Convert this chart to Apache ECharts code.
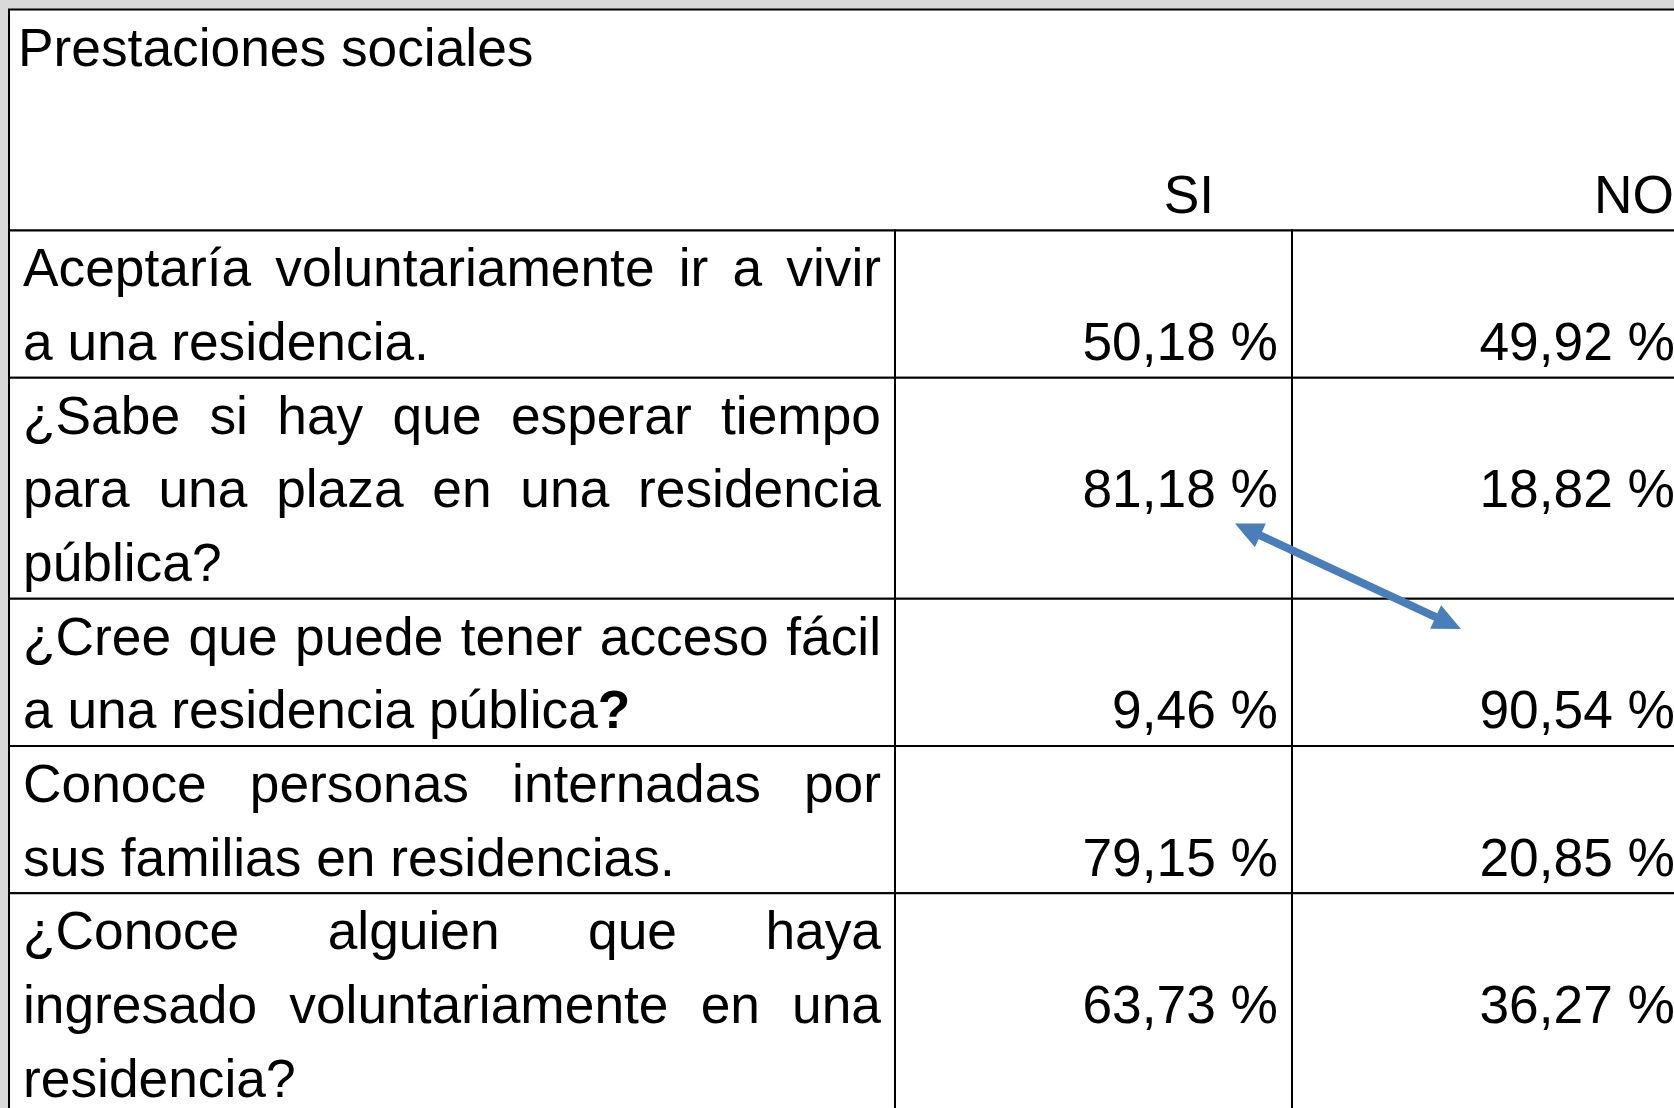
<!DOCTYPE html>
<html>
<head>
<meta charset="utf-8">
<title>Prestaciones sociales</title>
<script src="https://cdn.jsdelivr.net/npm/echarts@6/dist/echarts.min.js"></script>
<style>
  html, body { margin: 0; padding: 0; background: #d9d9d9; }
  #chart { width: 1674px; height: 1108px; }
</style>
</head>
<body>
<div id="chart"></div>
<script>
// ---- data ----
const title = 'Prestaciones sociales';
const answers = ['SI', 'NO'];
const questions = [
  ['Aceptaría voluntariamente ir a vivir', 'a una residencia.'],
  ['¿Sabe si hay que esperar tiempo', 'para una plaza en una residencia', 'pública?'],
  ['¿Cree que puede tener acceso fácil', 'a una residencia pública?'],
  ['Conoce personas internadas por', 'sus familias en residencias.'],
  ['¿Conoce alguien que haya', 'ingresado voluntariamente en una', 'residencia?']
];
const siValues = [50.18, 81.18, 9.46, 79.15, 63.73];
const noValues = [49.92, 18.82, 90.54, 20.85, 36.27];

// ---- layout / style ----
const FONT = '"Liberation Sans", Arial, sans-serif';
const FS = 53.3;
const LINE_H = 73.65;
const TEXT_DY = 4.5;
const HEADER_LINES = 3;
const COL_EDGES = [0, 886, 1283, 1680];   // x axis units = table px (table runs past the page)
const PAD_L = 14, PAD_R = 14, NUM_PAD = 14, TITLE_PAD = 9;
const HEADER_LABEL_RIGHT = [1205, 1665];
const NUM_LINE = 1;                       // numbers sit on the 2nd text line
const BOLD_MARK_ROW = 2;                  // trailing "?" in bold
const ARROW_FROM = [1226, 6.98];          // [x units, text lines]
const ARROW_TO = [1452, 8.41];
const ARROW_COLOR = '#4a7ebb';
const GRID_LEFT = 9, GRID_TOP = 9.5, PAGE_W = 1674, PAGE_H = 1108;

const rowStart = [];
let acc = HEADER_LINES;
questions.forEach(q => { rowStart.push(acc); acc += q.length; });

const ctx = document.createElement('canvas').getContext('2d');
ctx.font = FS + 'px ' + FONT;

const fmt = v => v.toFixed(2).replace('.', ',') + ' %';

function txt(s, x, y, align, extra) {
  return {
    type: 'text',
    style: Object.assign({
      text: s, x: x, y: y + TEXT_DY, align: align, verticalAlign: 'middle',
      fontSize: FS, fontFamily: FONT, fill: '#000'
    }, extra || {})
  };
}

function boxRect(api, x0, y0, x1, y1) {
  const a = api.coord([x0, y0]);
  const b = api.coord([x1, y1]);
  return {
    type: 'rect',
    shape: { x: a[0], y: a[1], width: b[0] - a[0], height: b[1] - a[1] },
    style: { fill: '#fff', stroke: '#000', lineWidth: 2 }
  };
}

function headerItem(params, api) {
  const children = [boxRect(api, 0, 0, COL_EDGES[3], HEADER_LINES)];
  const a = api.coord([0, 0.5]);
  children.push(txt(title, a[0] + TITLE_PAD, a[1], 'left'));
  answers.forEach((s, k) => {
    const p = api.coord([HEADER_LABEL_RIGHT[k], HEADER_LINES - 0.5]);
    children.push(txt(s, p[0], p[1], 'right'));
  });
  return { type: 'group', children: children };
}

function rowItem(params, api) {
  const i = params.dataIndex;
  const lines = questions[i];
  const start = rowStart[i];
  const end = start + lines.length;
  const children = [];
  for (let c = 0; c < 3; c++) children.push(boxRect(api, COL_EDGES[c], start, COL_EDGES[c + 1], end));

  const x0 = api.coord([COL_EDGES[0], 0])[0] + PAD_L;
  const x1 = api.coord([COL_EDGES[1], 0])[0] - PAD_R;
  lines.forEach((line, j) => {
    const y = api.coord([0, start + j + 0.5])[1];
    const words = line.split(' ');
    if (j < lines.length - 1 && words.length > 1) {
      // justified line
      const w = words.map(s => ctx.measureText(s).width);
      const gap = (x1 - x0 - w.reduce((m, n) => m + n, 0)) / (words.length - 1);
      let x = x0;
      words.forEach((s, k) => {
        children.push(txt(s, x, y, 'left'));
        x += w[k] + gap;
      });
    } else if (i === BOLD_MARK_ROW && j === lines.length - 1) {
      const body = line.slice(0, -1);
      children.push(txt('{n|' + body + '}{b|?}', x0, y, 'left', {
        rich: {
          n: { fontSize: FS, fontFamily: FONT, fill: '#000' },
          b: { fontSize: FS, fontFamily: FONT, fill: '#000', fontWeight: 'bold' }
        }
      }));
    } else {
      children.push(txt(line, x0, y, 'left'));
    }
  });

  const yNum = api.coord([0, start + NUM_LINE + 0.5])[1];
  [siValues[i], noValues[i]].forEach((v, k) => {
    const xr = api.coord([COL_EDGES[k + 2], 0])[0] - NUM_PAD;
    children.push(txt(fmt(v), xr, yNum, 'right'));
  });
  return { type: 'group', children: children };
}

function arrowItem(params, api) {
  const p = api.coord(ARROW_FROM);
  const q = api.coord(ARROW_TO);
  const dx = q[0] - p[0], dy = q[1] - p[1];
  const len = Math.sqrt(dx * dx + dy * dy);
  const ux = dx / len, uy = dy / len, nx = -uy, ny = ux;
  const L = 28, W = 13;
  const head = (t, s) => [
    [t[0], t[1]],
    [t[0] + s * ux * L + nx * W, t[1] + s * uy * L + ny * W],
    [t[0] + s * ux * L - nx * W, t[1] + s * uy * L - ny * W]
  ];
  return {
    type: 'group',
    children: [
      {
        type: 'line',
        shape: { x1: p[0] + ux * L * 0.8, y1: p[1] + uy * L * 0.8,
                 x2: q[0] - ux * L * 0.8, y2: q[1] - uy * L * 0.8 },
        style: { stroke: ARROW_COLOR, lineWidth: 8 }
      },
      { type: 'polygon', shape: { points: head(p, 1) }, style: { fill: ARROW_COLOR } },
      { type: 'polygon', shape: { points: head(q, -1) }, style: { fill: ARROW_COLOR } }
    ]
  };
}

const chart = echarts.init(document.getElementById('chart'));
chart.setOption({
  backgroundColor: '#d9d9d9',
  animation: false,
  // grid fills the page; the table continues past its right and bottom edge
  grid: { left: GRID_LEFT, top: GRID_TOP, right: 0, bottom: 0 },
  xAxis: { type: 'value', min: 0, max: PAGE_W - GRID_LEFT, show: false },
  yAxis: { type: 'value', min: 0, max: (PAGE_H - GRID_TOP) / LINE_H, inverse: true, show: false },
  series: [
    { type: 'custom', z: 1, renderItem: headerItem, data: [[0, 0]] },
    { type: 'custom', z: 2, renderItem: rowItem, data: questions.map((q, i) => [i, rowStart[i]]) },
    { type: 'custom', z: 3, renderItem: arrowItem, data: [[ARROW_FROM[0], ARROW_FROM[1]]] }
  ]
});
</script>
</body>
</html>
